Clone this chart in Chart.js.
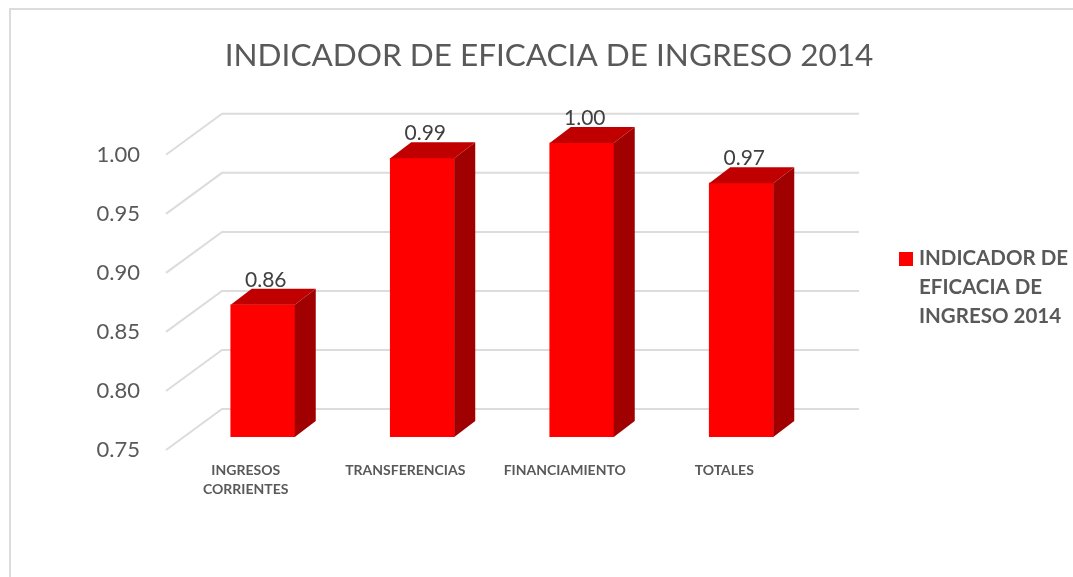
<!DOCTYPE html>
<html>
<head>
<meta charset="utf-8">
<style>
  html, body { margin: 0; padding: 0; background: #fff; }
  #wrap { width: 1073px; height: 577px; }
</style>
<script src="https://cdn.jsdelivr.net/npm/chart.js@4"></script>
</head>
<body>
<div id="wrap"><canvas id="myChart" width="1073" height="577"></canvas></div>
<script>
const categories = [['INGRESOS', 'CORRIENTES'], 'TRANSFERENCIAS', 'FINANCIAMIENTO', 'TOTALES'];
const values = [0.862, 0.986, 0.999, 0.965];
const valueLabels = ['0.86', '0.99', '1.00', '0.97'];
const tickValues = [0.75, 0.80, 0.85, 0.90, 0.95, 1.00];
const legendLines = ['INDICADOR DE', 'EFICACIA DE', 'INGRESO 2014'];
const titleText = 'INDICADOR DE EFICACIA DE INGRESO 2014';

const FONT = 'Lato, "Open Sans", sans-serif';
const TEXT = '#595959';

// fake 3D depth, same look as the office chart
const barDepthX = 21, barDepthY = 16;

const fake3d = {
    id: 'fake3d',
    beforeDatasetsDraw(chart) {
        const ctx = chart.ctx;
        const y = chart.scales.y;
        ctx.save();
        ctx.strokeStyle = '#dcdcdc';
        ctx.lineWidth = 2;
        tickValues.forEach(function (v) {
            const p = y.getPixelForValue(v);
            ctx.beginPath();
            ctx.moveTo(166, p + 13);
            ctx.lineTo(222, p - 28);
            ctx.lineTo(859, p - 28);
            ctx.stroke();
        });
        ctx.restore();
    },
    afterDatasetsDraw(chart) {
        const ctx = chart.ctx;
        const bars = chart.getDatasetMeta(0).data;
        ctx.save();
        bars.forEach(function (bar, i) {
            const left = bar.x - bar.width / 2;
            const right = bar.x + bar.width / 2;
            // top face
            ctx.fillStyle = '#c00000';
            ctx.beginPath();
            ctx.moveTo(left, bar.y);
            ctx.lineTo(left + barDepthX, bar.y - barDepthY);
            ctx.lineTo(right + barDepthX, bar.y - barDepthY);
            ctx.lineTo(right, bar.y);
            ctx.closePath();
            ctx.fill();
            // side face
            ctx.fillStyle = '#a00000';
            ctx.beginPath();
            ctx.moveTo(right, bar.y);
            ctx.lineTo(right + barDepthX, bar.y - barDepthY);
            ctx.lineTo(right + barDepthX, bar.base - barDepthY);
            ctx.lineTo(right, bar.base);
            ctx.closePath();
            ctx.fill();
            // value label
            ctx.fillStyle = '#404040';
            ctx.font = '21px ' + FONT;
            ctx.textAlign = 'center';
            ctx.textBaseline = 'alphabetic';
            ctx.fillText(valueLabels[i], bar.x + 3, bar.y - 18);
        });
        ctx.restore();
    },
    afterDraw(chart) {
        // legend text wraps on three lines, the built in one can't do that
        const ctx = chart.ctx;
        ctx.save();
        ctx.fillStyle = '#ff0000';
        ctx.fillRect(899, 252, 14, 14);
        ctx.fillStyle = TEXT;
        ctx.font = 'bold 20.5px ' + FONT;
        ctx.textAlign = 'left';
        ctx.textBaseline = 'middle';
        legendLines.forEach(function (line, i) {
            ctx.fillText(line, 919, 258 + i * 29);
        });
        // chart border
        ctx.strokeStyle = '#dcdcdc';
        ctx.lineWidth = 2;
        ctx.beginPath();
        ctx.moveTo(10, 577);
        ctx.lineTo(10, 9);
        ctx.lineTo(1073, 9);
        ctx.stroke();
        ctx.restore();
    }
};

const myChart = new Chart(document.getElementById('myChart'), {
    type: 'bar',
    data: {
        labels: categories,
        datasets: [{
            label: 'INDICADOR DE EFICACIA DE INGRESO 2014',
            data: values,
            base: 0.75,
            backgroundColor: '#ff0000',
            barThickness: 64
        }]
    },
    options: {
        responsive: false,
        animation: false,
        // left padding pushes the title to the right, like the original
        layout: { padding: { left: 25 } },
        plugins: {
            legend: { display: false },
            tooltip: { enabled: false },
            title: {
                display: true,
                text: titleText,
                color: TEXT,
                font: { family: FONT, size: 31.5, weight: 'normal' },
                padding: { top: 37, bottom: 67 }
            }
        },
        scales: {
            x: {
                afterFit(scale) { scale.height = 140; },
                grid: { display: false },
                border: { display: false },
                ticks: {
                    color: TEXT,
                    font: { family: FONT, size: 14, weight: 'bold', lineHeight: 1.35 },
                    labelOffset: -17,
                    padding: 16,
                    maxRotation: 0,
                    autoSkip: false
                }
            },
            y: {
                min: 0.75,
                max: 1.00,
                afterFit(scale) { scale.width = 158; },
                afterBuildTicks(scale) {
                    scale.ticks = tickValues.map(function (v) { return { value: v }; });
                },
                grid: { display: false },
                border: { display: false },
                ticks: {
                    color: TEXT,
                    font: { family: FONT, size: 22 },
                    labelOffset: 13,
                    padding: 35,
                    callback: function (v) { return Number(v).toFixed(2); }
                }
            },
            // empty axis, keeps room for the legend on the right
            legendRoom: {
                position: 'right',
                min: 0.75,
                max: 1.00,
                afterFit(scale) { scale.width = 252; },
                grid: { display: false },
                border: { display: false },
                ticks: { display: false }
            }
        }
    },
    plugins: [fake3d]
});
</script>
</body>
</html>
